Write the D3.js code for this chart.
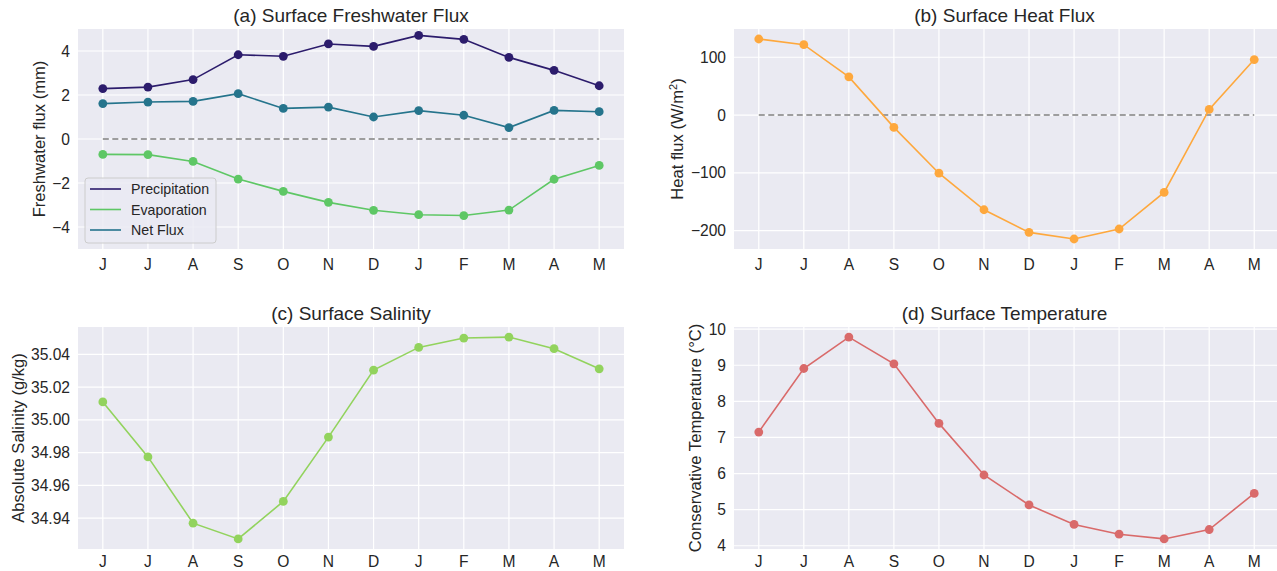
<!DOCTYPE html>
<html>
<head>
<meta charset="utf-8">
<script src="https://d3js.org/d3.v7.min.js"></script>
<style>
  body { margin: 0; background: white; }
  svg { font-family: "Liberation Sans", Arial, sans-serif; }
  .grid line { stroke: white; stroke-width: 1.2px; }
  .tick-label { font-size: 15.6px; fill: #262626; }
  .title { font-size: 19px; fill: #262626; }
  .axis-label { font-size: 16.6px; fill: #262626; }
</style>
</head>
<body>
<svg id="fig" width="1277" height="571"></svg>
<script>
// month labels, June to May
const months = ["J", "J", "A", "S", "O", "N", "D", "J", "F", "M", "A", "M"];

// (a) freshwater flux, mm
const precipitation = [2.29, 2.36, 2.70, 3.83, 3.76, 4.32, 4.21, 4.71, 4.53, 3.71, 3.12, 2.42];
const evaporation = [-0.70, -0.71, -1.02, -1.82, -2.38, -2.88, -3.24, -3.44, -3.48, -3.23, -1.83, -1.20];
const netFlux = [1.61, 1.68, 1.71, 2.06, 1.39, 1.45, 1.00, 1.29, 1.08, 0.52, 1.30, 1.24];

// (b) heat flux, W/m2
const heatFlux = [131.6, 121.8, 66.1, -21.3, -100.6, -163.8, -202.9, -214.4, -197.1, -133.9, 9.8, 96.0];

// (c) absolute salinity, g/kg
const salinity = [35.011, 34.9774, 34.9369, 34.9273, 34.9502, 34.9895, 35.0304, 35.0443, 35.0500, 35.0506, 35.0435, 35.0312];

// (d) conservative temperature, degC
const temperature = [7.15, 8.91, 9.78, 9.04, 7.39, 5.96, 5.13, 4.59, 4.32, 4.19, 4.45, 5.45];

const svg = d3.select("#fig");
const H = +svg.attr("height");
const minus = s => String(s).replace("-", "\u2212");

function panel(opts) {
  const { left, right, top, bottom } = opts.box;
  const g = svg.append("g");

  const x = d3.scaleLinear().domain([-0.55, months.length - 1 + 0.55]).range([left, right]);
  let dom = opts.domain;
  if (!dom) {
    const all = opts.series.flatMap(s => s.values);
    const ext = d3.extent(all);
    const pad = (ext[1] - ext[0]) * 0.05;
    dom = [ext[0] - pad, ext[1] + pad];
  }
  const y = d3.scaleLinear().domain(dom).range([bottom, top]);

  g.append("rect")
    .attr("x", left).attr("y", top)
    .attr("width", right - left).attr("height", bottom - top)
    .attr("fill", "#eaeaf2");

  const grid = g.append("g").attr("class", "grid");
  grid.selectAll(".gx").data(d3.range(months.length)).join("line")
    .attr("x1", d => x(d)).attr("x2", d => x(d))
    .attr("y1", top).attr("y2", bottom);
  grid.selectAll(".gy").data(opts.ticks).join("line")
    .attr("x1", left).attr("x2", right)
    .attr("y1", d => y(d)).attr("y2", d => y(d));

  // tick labels (keep the bottom row inside the picture)
  const xLabY = Math.min(bottom + 21, H - 4);
  g.selectAll(".xl").data(months).join("text")
    .attr("class", "tick-label")
    .attr("x", (d, i) => x(i))
    .attr("y", xLabY)
    .attr("text-anchor", "middle")
    .text(d => d);
  g.selectAll(".yl").data(opts.ticks).join("text")
    .attr("class", "tick-label")
    .attr("x", left - 8)
    .attr("y", d => y(d) + 5.5)
    .attr("text-anchor", "end")
    .text(d => minus(opts.fmt(d)));

  if (opts.zeroLine) {
    g.append("line")
      .attr("x1", x(0)).attr("x2", x(months.length - 1))
      .attr("y1", y(0)).attr("y2", y(0))
      .attr("stroke", "#808080").attr("stroke-width", 1.6)
      .attr("stroke-dasharray", "6,3.5");
  }

  const line = d3.line().x((d, i) => x(i)).y(d => y(d));
  opts.series.forEach(s => {
    g.append("path")
      .attr("d", line(s.values))
      .attr("fill", "none")
      .attr("stroke", s.color)
      .attr("stroke-width", 1.6);
    g.selectAll(null).data(s.values).join("circle")
      .attr("cx", (d, i) => x(i))
      .attr("cy", d => y(d))
      .attr("r", 4.4)
      .attr("fill", s.color);
  });

  const cx = (left + Math.min(right, 1277)) / 2 - (right > 1277 ? 1 : 0);
  g.append("text")
    .attr("class", "title")
    .attr("x", cx)
    .attr("y", top - 7)
    .attr("text-anchor", "middle")
    .text(opts.title);

  const lab = g.append("text")
    .attr("class", "axis-label")
    .attr("transform", `translate(${opts.labelX},${(top + bottom) / 2}) rotate(-90)`)
    .attr("text-anchor", "middle");
  if (opts.labelParts) {
    opts.labelParts.forEach(p => {
      const t = lab.append("tspan").text(p.text);
      if (p.sup) t.attr("baseline-shift", "super").attr("font-size", "11px");
    });
  } else {
    lab.text(opts.label);
  }

  if (opts.legend) {
    const lg = g.append("g").attr("transform", `translate(${left + 7},${bottom - 71})`);
    lg.append("rect")
      .attr("width", 131).attr("height", 65).attr("rx", 3)
      .attr("fill", "#eaeaf2").attr("fill-opacity", 0.8)
      .attr("stroke", "#cccccc").attr("stroke-width", 1);
    opts.series.forEach((s, i) => {
      const yy = 11 + i * 20.5;
      lg.append("line")
        .attr("x1", 5).attr("x2", 36).attr("y1", yy).attr("y2", yy)
        .attr("stroke", s.color).attr("stroke-width", 1.6);
      lg.append("text")
        .attr("x", 46).attr("y", yy + 5)
        .attr("font-size", "14.2px").attr("fill", "#262626")
        .text(s.name);
    });
  }
}

panel({
  box: { left: 78, right: 624, top: 29, bottom: 249 },
  domain: [-5, 5],
  ticks: [-4, -2, 0, 2, 4],
  fmt: d => d,
  zeroLine: true,
  title: "(a) Surface Freshwater Flux",
  label: "Freshwater flux (mm)",
  labelX: 45,
  legend: true,
  series: [
    { name: "Precipitation", values: precipitation, color: "#2c1c6c" },
    { name: "Evaporation", values: evaporation, color: "#5ec765" },
    { name: "Net Flux", values: netFlux, color: "#25748c" }
  ]
});

panel({
  box: { left: 734, right: 1279, top: 29, bottom: 249 },
  ticks: [-200, -100, 0, 100],
  fmt: d => d,
  zeroLine: true,
  title: "(b) Surface Heat Flux",
  labelParts: [{ text: "Heat flux (W/m" }, { text: "2", sup: true }, { text: ")" }],
  labelX: 683,
  series: [{ name: "Heat", values: heatFlux, color: "#fea83d" }]
});

panel({
  box: { left: 78, right: 624, top: 327, bottom: 549 },
  ticks: [34.94, 34.96, 34.98, 35.00, 35.02, 35.04],
  fmt: d => d.toFixed(2),
  title: "(c) Surface Salinity",
  label: "Absolute Salinity (g/kg)",
  labelX: 24,
  series: [{ name: "Salinity", values: salinity, color: "#92d35d" }]
});

panel({
  box: { left: 734, right: 1279, top: 327, bottom: 549 },
  ticks: [4, 5, 6, 7, 8, 9, 10],
  fmt: d => d,
  title: "(d) Surface Temperature",
  label: "Conservative Temperature (\u00b0C)",
  labelX: 701,
  series: [{ name: "Temperature", values: temperature, color: "#d96a6a" }]
});
</script>
</body>
</html>
